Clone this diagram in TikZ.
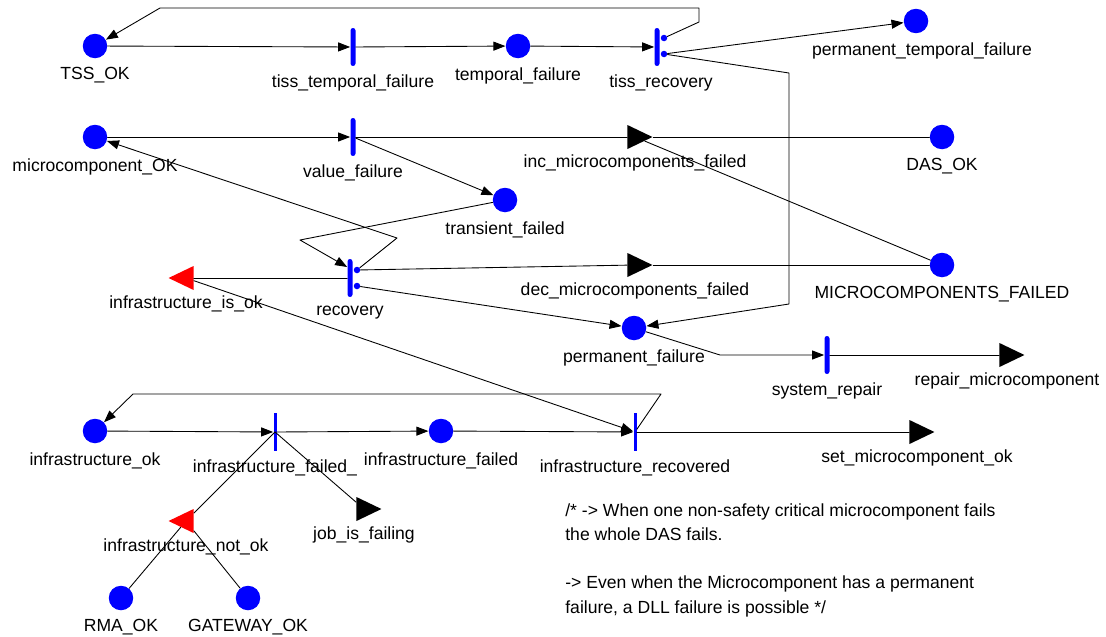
\documentclass[tikz,border=0pt]{standalone}
\usepackage{fontspec}
\setmainfont{Liberation Sans}
\usetikzlibrary{arrows.meta,shapes.geometric,calc}

\begin{document}
\begin{tikzpicture}[line cap=round,line join=round,>={Triangle[length=0.24cm,width=0.18cm]},x=0.02cm,y=-0.02cm,
	font=\fontsize{10}{12}\selectfont,label distance=1.5pt,
	place/.style={circle,fill=blue,inner sep=0pt,minimum size=0.49cm},
	trans/.style={rectangle,fill=blue,inner sep=0pt,rounded corners=0.05cm,minimum width=0.1cm,minimum height=0.76cm},
	thintrans/.style={rectangle,fill=blue,inner sep=0pt,minimum width=0.06cm,minimum height=0.76cm},
	outdot/.style={circle,fill=blue,inner sep=0pt,minimum size=0.13cm},
	outport/.style={isosceles triangle,isosceles triangle stretches,fill=black,inner sep=0pt,minimum width=0.48cm,minimum height=0.5cm},
	inport/.style={outport,fill=red,shape border rotate=180},
	arc/.style={line width=0.5pt}]
		\useasboundingbox (0,0) rectangle (1106,636);
		% temporal failures of the TISS
		\node[place,label=below:TSS\_OK] (tssok) at (95,46) {};
		\node[trans,label=below:tiss\_temporal\_failure] (tisstemp) at (353,47) {};
		\node[place,label=below:temporal\_failure] (tempfail) at (518,46) {};
		\node[trans,label={[xshift=0.08cm]below:tiss\_recovery}] (tissrec) at (657,47) {};
		\node[outdot] (tissrecA) at (664,38) {};
		\node[outdot] (tissrecB) at (664,54) {};
		\node[place,label={[xshift=0.12cm]below:permanent\_temporal\_failure}] (permtemp) at (916,21) {};
		% microcomponent failures
		\node[place,label=below:microcomponent\_OK] (microok) at (95,137) {};
		\node[trans,label=below:value\_failure] (valfail) at (353,137) {};
		\node[outport,label=below:inc\_microcomponents\_failed] (incmc) at (635,137) {};
		\node[place,label=below:DAS\_OK] (dasok) at (942,137) {};
		\node[place,label=below:transient\_failed] (transfail) at (505,200) {};
		\node[trans,label=below:recovery] (recovery) at (350,278) {};
		\node[outdot] (recA) at (357,270) {};
		\node[outdot] (recB) at (357,286) {};
		\node[inport,label=below:infrastructure\_is\_ok] (infisok) at (186,278) {};
		\node[outport,label=below:dec\_microcomponents\_failed] (decmc) at (635,265) {};
		\node[place,label=below:MICROCOMPONENTS\_FAILED] (mcfailed) at (942,265) {};
		\node[place,label=below:permanent\_failure] (permfail) at (634,328) {};
		\node[trans,label=below:system\_repair] (sysrep) at (827,355) {};
		\node[outport,label=below:repair\_microcomponent] (repmc) at (1007,355) {};
		% infrastructure
		\node[place,label=below:infrastructure\_ok] (infok) at (95,431) {};
		\node[thintrans,label=below:infrastructure\_failed\_] (infailT) at (275,432) {};
		\node[place,label=below:infrastructure\_failed] (infailed) at (441,431) {};
		\node[thintrans,label=below:infrastructure\_recovered] (infrec) at (635,432) {};
		\node[outport,label=below:set\_microcomponent\_ok] (setmc) at (917,432) {};
		\node[outport,label=below:job\_is\_failing] (jobfail) at (364,509) {};
		\node[inport,label=below:infrastructure\_not\_ok] (infnotok) at (186,521) {};
		\node[place,label=below:RMA\_OK] (rmaok) at (121,598) {};
		\node[place,label=below:GATEWAY\_OK] (gwok) at (248,598) {};
		\node[anchor=north west,align=left,inner sep=0pt,font=\fontsize{10}{13.8}\selectfont] (note) at (565,503)
			{/* -> When one non-safety critical microcomponent fails\\the whole DAS fails.\\[13.8pt]-> Even when the Microcomponent has a permanent\\failure, a DLL failure is possible */};
		% arcs
		\draw[arc,->] (tssok) -- (tisstemp);
		\draw[arc,->] (tisstemp) -- (tempfail);
		\draw[arc,->] (tempfail) -- (tissrec);
		\draw[arc,->] (tissrecA) -- (699,22) -- (699,8) -- (160,8) -- (tssok);
		\draw[arc,->] (tissrecB) -- (permtemp);
		\draw[arc,->] (tissrecB) -- (789,73) -- (789,304) -- (permfail);
		\draw[arc,->] (microok) -- (valfail);
		\draw[arc] (valfail) -- (incmc);
		\draw[arc] (incmc) -- (dasok);
		\draw[arc,->] (valfail) -- (transfail);
		\draw[arc] (incmc) -- (mcfailed);
		\draw[arc,->] (transfail) -- (300,240) -- ($(recovery.west)+(0,-11)$);
		\draw[arc,->] (recA) -- (397,238) -- (microok);
		\draw[arc] (recA) -- (decmc);
		\draw[arc] (decmc) -- (mcfailed);
		\draw[arc,->] (recB) -- (permfail);
		\draw[arc] (recovery) -- (infisok);
		\draw[arc,->] (infisok) -- (infrec);
		\draw[arc,->] (permfail) -- (720,355) -- (sysrep);
		\draw[arc] (sysrep) -- (repmc);
		\draw[arc,->] (infok) -- (infailT);
		\draw[arc,->] (infailT) -- (infailed);
		\draw[arc,->] (infailed) -- (infrec);
		\draw[arc,->] (infrec) -- (661,394) -- (133,394) -- (infok);
		\draw[arc] (infrec) -- (setmc);
		\draw[arc] (infailT.center) -- (jobfail);
		\draw[arc] (infailT.center) -- (infnotok);
		\draw[arc] (infnotok) -- (rmaok);
		\draw[arc] (infnotok) -- (gwok);
\end{tikzpicture}
\end{document}
